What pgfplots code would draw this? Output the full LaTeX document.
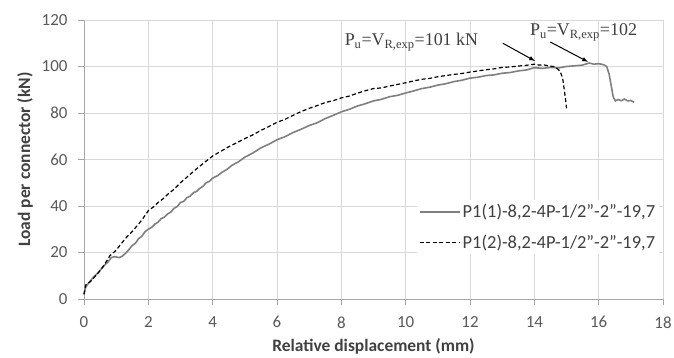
\documentclass[border=0pt]{standalone}
\usepackage{fontspec}
\setmainfont{Carlito}
\newfontfamily\timesf{Liberation Serif}
\usepackage{pgfplots}
\pgfplotsset{compat=1.18}
\definecolor{gridc}{HTML}{D9D9D9}
\definecolor{axc}{HTML}{A6A6A6}
\definecolor{tickc}{HTML}{595959}
\definecolor{labc}{HTML}{404040}
\definecolor{solidc}{HTML}{7F7F7F}
\begin{document}
\begin{tikzpicture}
\useasboundingbox (-84bp,-59bp) rectangle (590bp,299bp);
\begin{axis}[
  at={(0,0)}, anchor=south west,
  scale only axis, width=579bp, height=279bp,
  xmin=0, xmax=18, ymin=0, ymax=120,
  xtick={0,2,...,18}, ytick={0,20,...,120},
  grid=major, major grid style={gridc, line width=0.8pt},
  axis lines*=left, axis line style={axc, line width=0.9pt},
  tick align=outside, major tick length=6bp, tick style={axc, line width=0.8pt},
  /pgf/number format/assume math mode=true,
  ticklabel style={font=\fontsize{17}{20}\selectfont, text=tickc},
  xticklabel style={yshift=-8bp},
  yticklabel style={xshift=-7bp},
  xlabel={\textbf{Relative displacement (mm)}},
  ylabel={\textbf{Load per connector (kN)}},
  label style={font=\fontsize{17.5}{20}\selectfont, text=labc},
  xlabel style={yshift=-4bp},
  ylabel style={yshift=2bp},
  legend style={at={(axis cs:10.35,42.5)}, anchor=north west, draw=none, fill=white,
    font=\fontsize{18.5}{21}\selectfont, text=labc, row sep=12bp, inner sep=2bp},
  legend cell align=left,
  legend image code/.code={\draw[#1] (0bp,0bp) -- (40bp,0bp);},
  clip=false,
]
\addplot[solidc, line width=1.6pt] coordinates {
(0,2) (0.05,5) (0.15,7) (0.3,9.5) (0.45,11.5) (0.6,14) (0.75,16) (0.85,17.8) (0.95,18.2) (1.1,17.8) (1.2,18.5)
(1.35,20.5) (1.5,23) (1.6,24) (1.7,26) (1.8,27) (1.9,29) (2.0,30) (2.1,30.8) (2.2,32.2) (2.3,33) (2.4,34.6)
(2.5,35.2) (2.6,36.6) (2.7,37.4) (2.8,39) (2.9,39.8) (3.0,41.5) (3.1,42) (3.2,43.6) (3.3,44.2) (3.4,45.7)
(3.5,46.3) (3.6,47.6) (3.7,48.5) (3.8,50) (3.9,50.6) (4.0,52) (4.15,53) (4.3,54.6) (4.45,55.8) (4.6,57.5)
(4.8,59) (5.0,61) (5.25,62.8) (5.5,65) (5.75,66.6) (6.0,68.5) (6.25,69.8) (6.5,71.6) (6.75,73) (7.0,74.6)
(7.25,75.8) (7.5,77.6) (7.75,79) (8.0,80.5) (8.25,81.6) (8.5,83) (8.75,84) (9.0,85.2) (9.25,85.9) (9.5,87)
(9.75,87.6) (10,88.6) (10.25,89.5) (10.5,90.5) (10.75,91.1) (11,92) (11.25,92.6) (11.5,93.5) (11.75,94.1)
(12,95) (12.25,95.4) (12.5,96.1) (12.75,96.4) (13,97.1) (13.25,97.4) (13.5,98.1) (13.75,98.5) (14,99.5)
(14.25,99.2) (14.5,99.6) (14.75,99.4) (15,100) (15.25,100.3) (15.5,100.6) (15.7,101.5) (15.85,101) (16.0,101.2)
(16.15,100.8) (16.25,100) (16.32,97) (16.4,91) (16.45,87) (16.52,85.2) (16.6,85.8) (16.7,85.3) (16.8,86)
(16.9,85.2) (17.0,85.4) (17.1,84.6)
};
\addlegendentry{P1(1)-8,2-4P-1/2”-2”-19,7}
\addplot[black, line width=1.2pt, dash pattern=on 4bp off 2.5bp] coordinates {
(0,2) (0.05,6) (0.2,7.5) (0.4,10.5) (0.6,14) (0.8,18.5) (1.0,21) (1.2,24.5) (1.35,27) (1.5,29) (1.65,31.5)
(1.8,34) (2.0,38) (2.15,39.5) (2.3,41.5) (2.45,43) (2.6,45) (2.8,47.2) (3.0,50) (3.25,53) (3.5,56)
(3.75,58.8) (4.0,61.5) (4.25,63.5) (4.5,65.5) (4.75,67.2) (5.0,69) (5.25,70.6) (5.5,72.5) (5.75,74.2)
(6.0,76) (6.25,77.3) (6.5,79) (6.75,80.6) (7.0,82) (7.25,83.2) (7.5,84.5) (7.75,85.3) (8.0,86.5)
(8.25,87.3) (8.5,88.5) (8.75,89.6) (9.0,90.5) (9.25,90.8) (9.5,91.6) (9.75,92.3) (10,93) (10.25,93.8)
(10.5,94.5) (10.75,94.9) (11,95.6) (11.25,96.1) (11.5,96.6) (11.75,97) (12,97.6) (12.25,98.1) (12.5,98.6)
(12.75,99) (13,99.6) (13.25,99.8) (13.5,100.2) (13.75,100.5) (14,101) (14.15,100.6) (14.3,100.7) (14.45,100.2)
(14.6,100) (14.7,99.2) (14.8,98) (14.88,95) (14.93,90) (14.97,86) (15.0,82)
};
\addlegendentry{P1(2)-8,2-4P-1/2”-2”-19,7}
\node[font=\timesf\fontsize{18}{20}\selectfont, text=labc, anchor=west, inner sep=0pt] at (axis cs:8.1,110.5)
  {P\textsubscript{u}=V\textsubscript{R,exp}=101 kN};
\node[font=\timesf\fontsize{18}{20}\selectfont, text=labc, anchor=west, inner sep=0pt] at (axis cs:13.86,114.8)
  {P\textsubscript{u}=V\textsubscript{R,exp}=102};
\draw[-latex, black, line width=1pt] (axis cs:13.02,110) -- (axis cs:14.02,102.4);
\draw[-latex, black, line width=1pt] (axis cs:14.5,110.5) -- (axis cs:15.67,102);
\end{axis}
\end{tikzpicture}
\end{document}
